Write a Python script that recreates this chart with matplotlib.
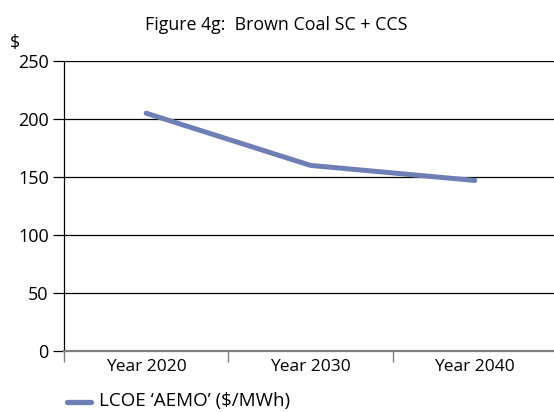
import matplotlib
matplotlib.use("Agg")
import matplotlib.pyplot as plt
from matplotlib.lines import Line2D

plt.rcParams['font.family'] = ['Open Sans', 'DejaVu Sans']

categories = ["Year 2020", "Year 2030", "Year 2040"]
lcoe_values = [205, 160, 147]
y_ticks = [0, 50, 100, 150, 200, 250]
series_label = "LCOE \u2018AEMO\u2019 ($/MWh)"
title = "Figure 4g:  Brown Coal SC + CCS"

line_color = "#6e7fb6"

fig = plt.figure(figsize=(5.54, 4.12), dpi=100)
ax = fig.add_axes([64 / 554, 61 / 412, 493 / 554, 290 / 412])

xs = [i + 0.5 for i in range(len(categories))]
ax.plot(xs, lcoe_values, color=line_color, linewidth=3.6,
        solid_capstyle='round', solid_joinstyle='round', zorder=3)

ax.set_xlim(0, len(categories))
ax.set_ylim(0, 250)
ax.set_yticks(y_ticks)
ax.set_yticklabels([str(v) for v in y_ticks], fontsize=13)
for v in y_ticks[1:]:
    ax.axhline(v, color='black', linewidth=0.9, zorder=1)

ax.set_xticks(xs)
ax.set_xticklabels(categories, fontsize=12.5)
ax.tick_params(axis='x', length=0, pad=6)
ax.set_xticks(range(len(categories) + 1), minor=True)
ax.tick_params(axis='x', which='minor', length=8, width=1, color='#7f7f7f', direction='out')
ax.tick_params(axis='y', length=8, width=0.9, color='black', pad=3)

for s in ['top', 'right']:
    ax.spines[s].set_visible(False)
ax.spines['left'].set_color('black')
ax.spines['left'].set_linewidth(0.9)
ax.spines['bottom'].set_color('#7f7f7f')
ax.spines['bottom'].set_linewidth(1.6)

fig.text(276 / 554, 1 - 25 / 412, title, ha='center', va='center', fontsize=12.8)
fig.text(15 / 554, 1 - 43 / 412, "$", ha='center', va='center', fontsize=13)

# legend drawn by hand below the axes
fig.add_artist(Line2D([67 / 554, 91 / 554], [1 - 402 / 412, 1 - 402 / 412],
                      color=line_color, linewidth=3.8, solid_capstyle='round'))
fig.text(99 / 554, 1 - 401 / 412, series_label, ha='left', va='center', fontsize=13.5)

fig.savefig("out.png", dpi=100)
